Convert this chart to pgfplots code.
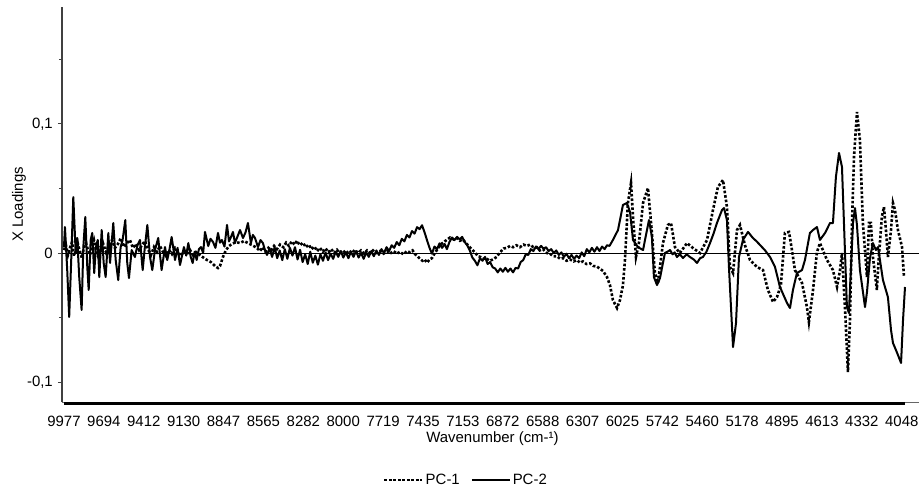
\documentclass[border=0pt]{standalone}
\usepackage{fontspec}
\setmainfont{Liberation Sans}
\usepackage{pgfplots}
\usepackage{pgfplotstable}
\pgfplotsset{compat=1.18}

\pgfplotstableread{
w y
9977 0.0046
9970 0.0201
9954 -0.0132
9940 -0.0495
9925 -0.0031
9911 0.0433
9894 0.0000
9883 0.0116
9869 -0.0186
9852 -0.0441
9840 0.0046
9826 0.0279
9812 -0.0108
9802 -0.0286
9788 0.0101
9777 0.0155
9763 -0.0155
9751 0.0046
9738 0.0101
9727 -0.0186
9710 0.0178
9696 -0.0077
9682 -0.0186
9663 0.0155
9651 -0.0077
9628 0.0232
9611 -0.0054
9593 -0.0209
9576 0.0046
9562 0.0101
9543 0.0255
9529 -0.0077
9517 -0.0194
9498 0.0023
9475 -0.0031
9457 0.0060
9439 0.0101
9420 -0.0132
9405 0.0040
9387 0.0217
9368 -0.0031
9352 -0.0132
9333 0.0023
9310 0.0116
9286 -0.0132
9262 0.0046
9246 -0.0054
9230 0.0030
9215 0.0124
9191 -0.0054
9173 0.0040
9156 -0.0093
9128 0.0046
9112 -0.0020
9097 0.0077
9080 -0.0030
9066 -0.0077
9052 0.0010
9038 -0.0054
9022 0.0030
9007 0.0046
8992 0.0000
8979 0.0163
8956 0.0054
8940 0.0110
8922 0.0085
8905 0.0040
8887 0.0155
8873 0.0080
8859 0.0101
8841 0.0050
8823 0.0217
8809 0.0090
8795 0.0124
8781 0.0163
8767 0.0080
8753 0.0116
8731 0.0178
8710 0.0116
8692 0.0160
8675 0.0232
8654 0.0077
8640 0.0140
8625 0.0116
8604 0.0046
8586 0.0100
8569 0.0077
8554 0.0020
8540 -0.0015
8522 0.0035
8504 -0.0030
8486 0.0045
8468 -0.0040
8450 0.0020
8432 -0.0055
8414 0.0030
8396 -0.0045
8378 0.0040
8360 -0.0020
8342 0.0045
8324 -0.0050
8306 0.0025
8288 -0.0070
8270 -0.0010
8252 -0.0085
8234 0.0010
8216 -0.0075
8198 -0.0020
8180 -0.0090
8162 -0.0010
8144 -0.0060
8126 0.0005
8108 -0.0055
8090 -0.0005
8072 -0.0045
8054 0.0010
8036 -0.0030
8018 0.0015
8000 -0.0035
7982 0.0005
7964 -0.0040
7946 0.0010
7928 -0.0030
7910 0.0015
7892 -0.0035
7874 0.0000
7856 -0.0045
7838 0.0005
7820 -0.0030
7802 0.0015
7784 -0.0025
7766 0.0020
7748 -0.0015
7730 0.0030
7712 0.0000
7694 0.0045
7676 0.0015
7658 0.0060
7640 0.0040
7622 0.0085
7604 0.0060
7586 0.0110
7568 0.0090
7550 0.0140
7532 0.0120
7514 0.0170
7496 0.0150
7478 0.0200
7460 0.0185
7443 0.0215
7425 0.0160
7408 0.0100
7390 0.0040
7373 -0.0005
7355 0.0050
7337 0.0030
7319 0.0075
7301 0.0040
7283 0.0070
7267 0.0030
7249 0.0085
7231 0.0120
7213 0.0100
7195 0.0125
7177 0.0105
7159 0.0125
7141 0.0085
7123 0.0060
7105 0.0020
7087 -0.0035
7069 -0.0060
7051 -0.0095
7033 -0.0040
7015 -0.0060
6997 -0.0030
6979 -0.0085
6961 -0.0070
6943 -0.0110
6925 -0.0120
6907 -0.0150
6889 -0.0120
6871 -0.0145
6853 -0.0115
6835 -0.0145
6817 -0.0120
6799 -0.0150
6781 -0.0115
6763 -0.0120
6745 -0.0070
6727 -0.0055
6709 -0.0010
6691 -0.0015
6673 0.0030
6655 0.0015
6637 0.0050
6619 0.0030
6601 0.0055
6583 0.0035
6565 0.0045
6547 0.0015
6529 0.0030
6511 0.0000
6493 0.0020
6475 -0.0015
6457 0.0005
6439 -0.0030
6421 -0.0005
6403 -0.0040
6385 -0.0015
6367 -0.0045
6349 -0.0020
6331 -0.0040
6313 0.0005
6295 -0.0025
6277 0.0030
6259 0.0005
6241 0.0040
6223 0.0010
6205 0.0045
6187 0.0015
6169 0.0050
6151 0.0030
6134 0.0060
6116 0.0055
6092 0.0101
6056 0.0178
6021 0.0372
5993 0.0387
5971 0.0317
5950 0.0101
5915 0.0046
5879 0.0023
5851 0.0178
5837 0.0255
5816 0.0124
5802 -0.0186
5780 -0.0248
5759 -0.0194
5724 0.0000
5706 0.0010
5688 0.0023
5670 -0.0010
5655 0.0005
5639 -0.0031
5618 -0.0010
5596 -0.0039
5570 -0.0010
5547 -0.0031
5520 -0.0050
5497 -0.0077
5475 -0.0040
5455 -0.0031
5430 0.0010
5405 0.0077
5380 0.0150
5356 0.0232
5320 0.0333
5306 0.0348
5285 0.0255
5271 -0.0108
5242 -0.0728
5221 -0.0542
5200 -0.0031
5172 0.0101
5136 0.0163
5101 0.0116
5075 0.0090
5051 0.0062
5015 0.0020
4980 -0.0031
4945 -0.0108
4910 -0.0263
4860 -0.0387
4839 -0.0426
4818 -0.0286
4790 -0.0155
4754 -0.0132
4733 -0.0054
4698 0.0155
4676 0.0178
4648 0.0201
4627 0.0101
4591 0.0155
4556 0.0232
4535 0.0232
4514 0.0588
4492 0.0774
4471 0.0666
4457 0.0232
4436 -0.0418
4422 -0.0464
4408 -0.0132
4393 0.0232
4379 0.0348
4365 0.0217
4344 -0.0132
4308 -0.0418
4294 -0.0302
4273 -0.0039
4252 0.0077
4231 0.0023
4216 0.0046
4181 -0.0209
4146 -0.0341
4124 -0.0596
4110 -0.0697
4089 -0.0751
4075 -0.0789
4053 -0.0851
4039 -0.0519
4025 -0.0263
}\pctwo

\pgfplotstableread{
w y
9977 0.0023
9963 0.0062
9949 -0.0015
9935 0.0039
9920 0.0085
9906 -0.0023
9892 0.0023
9878 0.0070
9864 0.0008
9850 -0.0039
9835 0.0046
9821 0.0077
9807 0.0023
9793 -0.0015
9779 0.0054
9765 0.0101
9751 0.0023
9736 -0.0023
9722 0.0039
9701 0.0077
9680 0.0008
9659 0.0054
9637 0.0101
9616 0.0039
9595 0.0070
9574 0.0116
9552 0.0046
9531 0.0077
9510 0.0101
9489 0.0039
9467 0.0070
9446 0.0023
9425 0.0062
9404 0.0093
9383 0.0031
9361 -0.0015
9340 0.0046
9319 0.0008
9298 0.0054
9276 0.0008
9255 -0.0023
9234 0.0023
9213 -0.0008
9191 0.0039
9170 0.0008
9149 -0.0023
9128 0.0015
9107 -0.0008
9085 0.0023
9064 -0.0015
9043 0.0008
9015 -0.0015
8986 -0.0039
8965 -0.0054
8937 -0.0070
8908 -0.0101
8887 -0.0116
8873 -0.0101
8852 -0.0031
8830 0.0023
8809 0.0054
8788 0.0070
8760 0.0085
8731 0.0077
8703 0.0093
8675 0.0077
8647 0.0062
8611 0.0039
8590 0.0015
8570 0.0045
8550 0.0010
8530 0.0040
8510 0.0020
8490 0.0055
8470 0.0030
8448 0.0065
8425 0.0045
8405 0.0080
8385 0.0055
8365 0.0090
8345 0.0065
8328 0.0095
8308 0.0060
8286 0.0080
8265 0.0045
8245 0.0065
8225 0.0030
8205 0.0050
8185 0.0015
8165 0.0040
8145 0.0010
8125 0.0035
8105 0.0005
8085 0.0030
8065 0.0000
8045 0.0025
8025 0.0000
8003 0.0020
7980 -0.0005
7960 0.0020
7939 0.0000
7918 0.0025
7897 0.0000
7875 0.0020
7853 -0.0005
7832 0.0020
7811 0.0000
7790 0.0020
7768 0.0000
7741 0.0015
7715 -0.0005
7690 0.0015
7670 -0.0005
7645 0.0015
7620 -0.0005
7599 0.0010
7575 -0.0010
7550 0.0015
7528 0.0005
7510 0.0020
7493 -0.0008
7475 -0.0025
7458 -0.0045
7440 -0.0060
7425 -0.0050
7408 -0.0075
7390 -0.0050
7373 -0.0040
7355 -0.0005
7337 0.0025
7315 0.0060
7295 0.0080
7270 0.0100
7245 0.0120
7220 0.0105
7196 0.0115
7175 0.0095
7153 0.0105
7135 0.0080
7118 0.0060
7100 0.0040
7083 0.0020
7065 0.0000
7047 -0.0025
7030 -0.0030
7012 -0.0045
6990 -0.0040
6965 -0.0060
6941 -0.0050
6915 -0.0030
6891 0.0005
6865 0.0035
6842 0.0040
6820 0.0055
6799 0.0045
6775 0.0060
6750 0.0045
6725 0.0065
6700 0.0055
6679 0.0065
6655 0.0045
6630 0.0045
6610 0.0020
6587 0.0030
6560 0.0000
6538 -0.0005
6515 -0.0025
6488 -0.0025
6465 -0.0045
6446 -0.0040
6420 -0.0060
6396 -0.0050
6370 -0.0065
6346 -0.0055
6325 -0.0075
6304 -0.0065
6280 -0.0085
6254 -0.0080
6230 -0.0100
6205 -0.0105
6162 -0.0139
6134 -0.0186
6113 -0.0248
6092 -0.0364
6063 -0.0426
6042 -0.0364
6021 -0.0248
6007 -0.0054
5986 0.0387
5964 0.0542
5950 0.0279
5929 -0.0031
5908 0.0077
5879 0.0387
5844 0.0503
5816 0.0155
5795 -0.0155
5773 -0.0232
5738 0.0077
5703 0.0217
5681 0.0232
5653 0.0046
5618 0.0000
5568 0.0077
5526 0.0039
5476 0.0000
5426 0.0101
5384 0.0333
5349 0.0511
5313 0.0565
5285 0.0356
5264 -0.0108
5242 -0.0155
5214 0.0178
5193 0.0217
5158 0.0062
5122 -0.0054
5073 -0.0108
5030 -0.0132
4995 -0.0286
4959 -0.0379
4931 -0.0341
4903 -0.0248
4875 0.0155
4846 0.0163
4825 0.0023
4804 -0.0132
4754 -0.0232
4719 -0.0418
4705 -0.0534
4676 -0.0286
4648 0.0008
4627 0.0077
4577 -0.0054
4535 -0.0132
4506 -0.0263
4485 -0.0132
4471 0.0000
4450 -0.0418
4429 -0.0921
4415 -0.0542
4400 0.0232
4386 0.0743
4365 0.1091
4344 0.0875
4323 0.0232
4294 -0.0186
4280 0.0232
4266 0.0232
4252 -0.0031
4224 -0.0286
4210 -0.0031
4189 0.0279
4174 0.0356
4160 0.0178
4146 -0.0031
4124 0.0178
4110 0.0387
4096 0.0333
4075 0.0178
4046 0.0046
4032 -0.0186
}\pcone

\begin{document}
\begin{tikzpicture}
\useasboundingbox (0,0) rectangle (920bp,488bp);
\begin{axis}[
  at={(62bp,86bp)}, anchor=south west,
  scale only axis, width=857bp, height=395bp,
  x dir=reverse,
  xmin=3926, xmax=9991,
  ymin=-0.1153, ymax=0.1904,
  axis x line*=bottom, axis y line*=left,
  x axis line style={-, draw=black!60, line width=0.8bp},
  y axis line style={-, draw=black!75, line width=1.2bp},
  clip=false,
  xtick={9977,9694.67,9412.33,9130,8847.67,8565.33,8283,8000.67,7718.33,7436,7153.67,6871.33,6589,6306.67,6024.33,5742,5459.67,5177.33,4895,4612.67,4330.33,4048},
  xticklabels={9977,9694,9412,9130,8847,8565,8282,8000,7719,7435,7153,6872,6588,6307,6025,5742,5460,5178,4895,4613,4332,4048},
  xtick style={draw=none},
  xticklabel style={anchor=base, inner sep=0pt, yshift=-20bp, font=\fontsize{15}{15}\selectfont},
  ytick={-0.1,0,0.1},
  yticklabels={{-0,1},{0},{0,1}},
  minor ytick={-0.05,0.05,0.15},
  ytick style={draw=black!75, line width=0.8bp},
  tick align=outside,
  major tick length=4bp, minor tick length=3bp,
  yticklabel style={anchor=east, inner sep=0pt, xshift=-5bp, font=\fontsize{15}{15}\selectfont},
  xlabel={Wavenumber (cm-¹)},
  every axis x label/.style={at={(rel axis cs:0.5,0)}, anchor=base, yshift=-40bp, xshift=2bp, inner sep=0pt, font=\fontsize{15}{15}\selectfont},
  ylabel={X Loadings},
  every axis y label/.style={at={(rel axis cs:0,0.5)}, xshift=-39bp, rotate=90, anchor=base, font=\fontsize{15}{15}\selectfont},
  legend columns=2,
  legend style={at={(0.4714,-0.1975)}, anchor=center, draw=none, fill=none,
    inner sep=0pt, font=\fontsize{15}{15}\selectfont,
    /tikz/every even column/.append style={column sep=9bp}},
  legend cell align=left,
  legend image code/.code={\draw[#1] (0bp,0bp) -- (38bp,0bp);},
]
\draw[black, line width=0.8bp] (axis cs:9991,0) -- (axis cs:3926,0);
\fill[black] (axis cs:9977,-0.1153) rectangle ([yshift=-3bp]axis cs:4025,-0.1153);
\addplot[black, line width=2.6bp, dash pattern=on 2.6bp off 1.9bp] table[x=w,y=y] {\pcone};
\addlegendentry{PC-1}
\addplot[black, line width=2bp, line join=round] table[x=w,y=y] {\pctwo};
\addlegendentry{PC-2}
\end{axis}
\end{tikzpicture}
\end{document}
